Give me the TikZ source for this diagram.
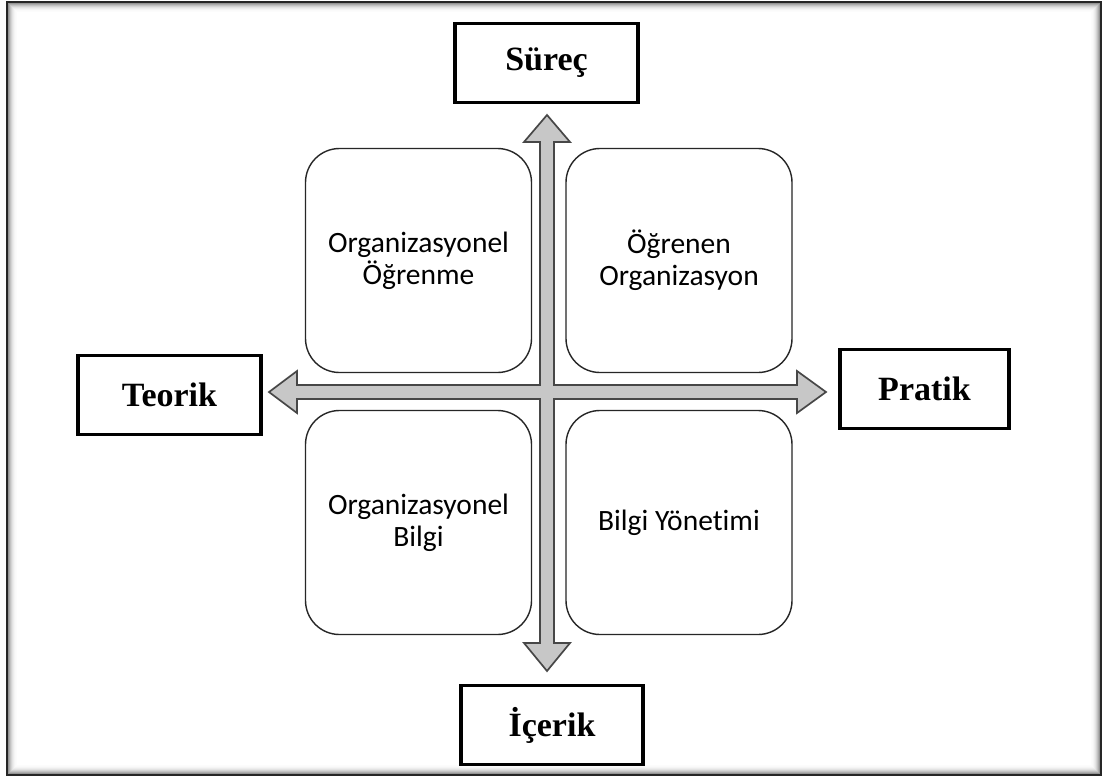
\documentclass[tikz,border=0pt]{standalone}
\usepackage{fontspec}
\setmainfont{Liberation Serif}
\newfontfamily\boxfont[Ligatures=NoCommon]{Carlito}
\usetikzlibrary{calc}

\begin{document}
\begin{tikzpicture}[x=1pt,y=-1pt,
  axislabel/.style={draw=black, line width=3.8pt, fill=white, inner sep=0pt,
    minimum height=79pt, font=\fontsize{34}{38}\selectfont\bfseries},
  quad/.style={draw=black!85, line width=1.4pt, rounded corners=34pt,
    minimum width=226pt, minimum height=224pt, align=center, inner sep=0pt,
    font=\boxfont\fontsize{29.5}{32}\selectfont},
  crossarrow/.style={fill=black!22, draw=black!72, line width=1.7pt, line join=miter}]

% page and framed panel with an inner shadow
\useasboundingbox (0,0) rectangle (1105,777);
\fill[white] (0,0) rectangle (1105,777);
\foreach \i/\g in {0/55,1/42,2/32,3/24,4/17,5/11,6/7,7/4,8/2,9/1}{
  \draw[black!\g, line width=1.2pt] (7.5+\i,2.5+\i) rectangle (1100.5-\i,774.5-\i);
}
\draw[black!85, line width=1.4pt] (7,2) rectangle (1101,775);

% quadrant boxes
\node[quad] (ol) at (418.5,260.5) {Organizasyonel\\Öğrenme};
\node[quad] (oo) at (679,260.5) {Öğrenen\\Organizasyon};
\node[quad] (ob) at (418.5,522.5) {Organizasyonel\\Bilgi};
\node[quad] (by) at (679,522.5) {Bilgi Yönetimi};

% axis end labels
\node[axislabel, minimum width=183pt] (surec)  at (546.5,63)  {Süreç};
\node[axislabel, minimum width=183pt] (teorik) at (169.5,395) {Teorik};
\node[axislabel, minimum width=169pt] (pratik) at (924.5,389) {Pratik};
\node[axislabel, minimum width=182pt] (icerik) at (552,725)   {İçerik};

% the two crossing block arrows, drawn as one outline around the centre
\coordinate (c) at (547,392);
\begin{scope}[shift={(c)}]
\draw[crossarrow]
  (7,-7) -- (7,-250) -- (23,-250) -- (0,-277) -- (-23,-250) -- (-7,-250)
  -- (-7,-7) -- (-250,-7) -- (-250,-21) -- (-278,0) -- (-250,21) -- (-250,7)
  -- (-7,7) -- (-7,251) -- (-23,251) -- (0,279) -- (23,251) -- (7,251)
  -- (7,7) -- (250,7) -- (250,21) -- (279,0) -- (250,-21) -- (250,-7) -- cycle;
\end{scope}
\end{tikzpicture}
\end{document}
